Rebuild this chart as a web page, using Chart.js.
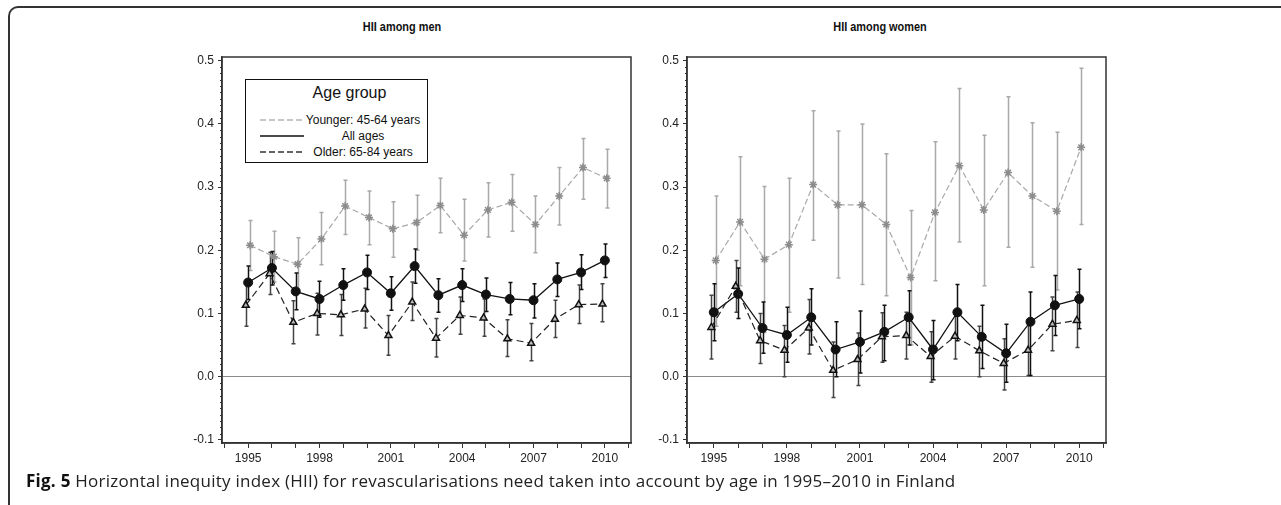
<!DOCTYPE html>
<html>
<head>
<meta charset="utf-8">
<script src="https://cdn.jsdelivr.net/npm/chart.js@4.4.1/dist/chart.umd.min.js"></script>
<style>
  body { margin: 0; width: 1281px; height: 505px; background: #fff; position: relative; overflow: hidden; font-family: "Liberation Sans", Arial, sans-serif; }
  .frame { position: absolute; left: 8px; top: 6px; width: 1300px; height: 510px; border-top: 2px solid #333; border-left: 2px solid #333; border-top-left-radius: 10px; }
  .ptitle { position: absolute; top: 19px; transform: translateX(-50%) scaleX(0.84); white-space: nowrap; color: #111;
            font: bold 13px "Liberation Sans", Arial, sans-serif; }
  canvas { position: absolute; }
  .legend { position: absolute; left: 245px; top: 79px; width: 181px; height: 82px; border: 1px solid #111; background: #fff; }
  .legend .lt { position: absolute; left: 0; right: 0; top: 4px; text-align: center; font-size: 16px; color: #111; padding-left: 26px; }
  .legend .row { position: absolute; left: 0; width: 181px; height: 16px; }
  .legend svg { position: absolute; left: 14px; top: 0; }
  .legend .tx { position: absolute; left: 58px; width: 118px; text-align: center; font-size: 12px; line-height: 16px; color: #111; }
  .caption { position: absolute; left: 26px; top: 469px; font-size: 17px; letter-spacing: 0.25px; color: #222; white-space: nowrap; font-family: "Open Sans", "Noto Sans", sans-serif; }
  .caption b { color: #111; }
</style>
</head>
<body>
<div class="frame"></div>
<div class="ptitle" style="left:402px">HII among men</div>
<div class="ptitle" style="left:880px">HII among women</div>
<canvas id="men" width="500" height="425" style="left:140px; top:45px"></canvas>
<canvas id="women" width="475" height="425" style="left:640px; top:45px"></canvas>
<div class="legend">
  <div class="lt">Age group</div>
  <div class="row" style="top:32px"><svg width="44" height="16"><line x1="0" y1="8" x2="44" y2="8" stroke="#b5b5b5" stroke-width="1.5" stroke-dasharray="6,3"/></svg><div class="tx">Younger: 45-64 years</div></div>
  <div class="row" style="top:48px"><svg width="44" height="16"><line x1="0" y1="8" x2="44" y2="8" stroke="#111" stroke-width="1.5"/></svg><div class="tx">All ages</div></div>
  <div class="row" style="top:64px"><svg width="44" height="16"><line x1="0" y1="8" x2="44" y2="8" stroke="#333" stroke-width="1.5" stroke-dasharray="6,3"/></svg><div class="tx">Older: 65-84 years</div></div>
</div>
<div class="caption"><b>Fig. 5</b> Horizontal inequity index (HII) for revascularisations need taken into account by age in 1995–2010 in Finland</div>

<script>
// Years and axis ticks
const years = [1995, 1996, 1997, 1998, 1999, 2000, 2001, 2002, 2003, 2004, 2005, 2006, 2007, 2008, 2009, 2010];
const tickYears = [1994, 1995, 1996, 1997, 1998, 1999, 2000, 2001, 2002, 2003, 2004, 2005, 2006, 2007, 2008, 2009, 2010, 2011];
const labelYears = [1995, 1998, 2001, 2004, 2007, 2010];
const yTicks = [-0.1, 0, 0.1, 0.2, 0.3, 0.4, 0.5];

// Men
const menYoung   = [0.208, 0.190, 0.178, 0.218, 0.270, 0.252, 0.234, 0.244, 0.271, 0.224, 0.264, 0.276, 0.241, 0.286, 0.331, 0.314];
const menYoungLo = [0.168, 0.150, 0.137, 0.177, 0.225, 0.209, 0.189, 0.200, 0.228, 0.183, 0.221, 0.230, 0.196, 0.240, 0.281, 0.267];
const menYoungHi = [0.247, 0.230, 0.220, 0.260, 0.311, 0.294, 0.277, 0.287, 0.314, 0.281, 0.307, 0.320, 0.286, 0.331, 0.377, 0.360];
const menAll     = [0.149, 0.172, 0.135, 0.123, 0.145, 0.165, 0.132, 0.175, 0.129, 0.145, 0.130, 0.123, 0.121, 0.154, 0.165, 0.184];
const menAllLo   = [0.122, 0.145, 0.106, 0.094, 0.121, 0.138, 0.105, 0.148, 0.102, 0.119, 0.103, 0.098, 0.093, 0.127, 0.138, 0.157];
const menAllHi   = [0.175, 0.198, 0.164, 0.151, 0.171, 0.192, 0.158, 0.202, 0.155, 0.171, 0.156, 0.149, 0.147, 0.180, 0.193, 0.210];
const menOld     = [0.113, 0.163, 0.086, 0.100, 0.098, 0.107, 0.065, 0.118, 0.061, 0.097, 0.093, 0.060, 0.053, 0.091, 0.114, 0.115];
const menOldLo   = [0.080, 0.130, 0.052, 0.066, 0.065, 0.077, 0.034, 0.089, 0.031, 0.067, 0.064, 0.032, 0.025, 0.062, 0.084, 0.087];
const menOldHi   = [0.146, 0.197, 0.120, 0.132, 0.130, 0.140, 0.097, 0.150, 0.092, 0.126, 0.123, 0.090, 0.084, 0.121, 0.145, 0.147];

// Women
const womenYoung   = [0.184, 0.245, 0.186, 0.209, 0.304, 0.272, 0.272, 0.241, 0.157, 0.260, 0.334, 0.264, 0.323, 0.286, 0.262, 0.363];
const womenYoungLo = [0.080, 0.144, 0.070, 0.102, 0.216, 0.156, 0.146, 0.128, 0.050, 0.152, 0.213, 0.144, 0.205, 0.173, 0.137, 0.241];
const womenYoungHi = [0.286, 0.348, 0.301, 0.314, 0.421, 0.389, 0.400, 0.353, 0.263, 0.372, 0.456, 0.382, 0.443, 0.402, 0.387, 0.488];
const womenAll     = [0.102, 0.131, 0.077, 0.066, 0.094, 0.043, 0.055, 0.071, 0.094, 0.043, 0.102, 0.063, 0.037, 0.087, 0.113, 0.123];
const womenAllLo   = [0.057, 0.092, 0.037, 0.023, 0.050, 0.000, 0.006, 0.025, 0.050, -0.005, 0.057, 0.013, -0.009, 0.002, 0.065, 0.076];
const womenAllHi   = [0.147, 0.172, 0.118, 0.110, 0.139, 0.087, 0.104, 0.113, 0.136, 0.089, 0.146, 0.113, 0.083, 0.134, 0.160, 0.170];
const womenOld     = [0.078, 0.143, 0.057, 0.042, 0.077, 0.010, 0.027, 0.063, 0.065, 0.032, 0.064, 0.041, 0.021, 0.042, 0.083, 0.089];
const womenOldLo   = [0.028, 0.102, 0.021, 0.000, 0.036, -0.033, -0.014, 0.023, 0.028, -0.009, 0.028, 0.000, -0.021, 0.002, 0.041, 0.046];
const womenOldHi   = [0.129, 0.184, 0.100, 0.081, 0.122, 0.055, 0.069, 0.101, 0.102, 0.071, 0.104, 0.080, 0.060, 0.084, 0.126, 0.134];

const FONT = '"Liberation Sans", Arial, sans-serif';
Chart.defaults.font.family = FONT;

// small horizontal nudge per series, as in the original figure
function points(vals, shift) {
  return years.map((yr, i) => ({ x: yr + shift, y: vals[i] }));
}

// Error bars, plot frame and minor y ticks
const decor = {
  id: 'decor',
  beforeDatasetsDraw(chart) {
    const ctx = chart.ctx;
    const yScale = chart.scales.y;
    chart.data.datasets.forEach((ds, di) => {
      const meta = chart.getDatasetMeta(di);
      ctx.save();
      ctx.strokeStyle = ds.barColor;
      ctx.lineWidth = 1.5;
      meta.data.forEach((pt, i) => {
        const x = Math.round(pt.x) + 0.5;
        const y1 = yScale.getPixelForValue(ds.lo[i]);
        const y2 = yScale.getPixelForValue(ds.hi[i]);
        ctx.beginPath();
        ctx.moveTo(x, y1); ctx.lineTo(x, y2);
        ctx.moveTo(x - 2, y1); ctx.lineTo(x + 2, y1);
        ctx.moveTo(x - 2, y2); ctx.lineTo(x + 2, y2);
        ctx.stroke();
      });
      ctx.restore();
    });
  },
  afterDraw(chart) {
    const ctx = chart.ctx;
    const a = chart.chartArea;
    const yScale = chart.scales.y;
    ctx.save();
    ctx.strokeStyle = '#333';
    ctx.lineWidth = 1.5;
    ctx.strokeRect(a.left, a.top, a.right - a.left, a.bottom - a.top);
    ctx.lineWidth = 1;
    ctx.beginPath();
    for (let k = -10; k <= 50; k++) {
      if (k % 10 === 0) continue;
      const y = Math.round(yScale.getPixelForValue(k / 100)) + 0.5;
      ctx.moveTo(a.left - 2, y);
      ctx.lineTo(a.left, y);
    }
    ctx.stroke();
    ctx.restore();
  }
};

function makeChart(id, yAxisWidth, young, youngLo, youngHi, all, allLo, allHi, old, oldLo, oldHi) {
  return new Chart(document.getElementById(id), {
    type: 'line',
    data: {
      datasets: [
        {
          label: 'Younger: 45-64 years',
          data: points(young, 0.08),
          lo: youngLo, hi: youngHi, barColor: '#a9a9a9',
          borderColor: '#a8a8a8', borderWidth: 1.2, borderDash: [6, 3],
          pointStyle: 'star', pointRadius: 4, pointBorderWidth: 1.5,
          pointBorderColor: '#8c8c8c', pointBackgroundColor: '#8c8c8c'
        },
        {
          label: 'Older: 65-84 years',
          data: points(old, -0.1),
          lo: oldLo, hi: oldHi, barColor: '#444',
          borderColor: '#222', borderWidth: 1.2, borderDash: [7, 4],
          pointStyle: 'triangle', pointRadius: 4, pointBorderWidth: 1.5,
          pointBorderColor: '#111', pointBackgroundColor: '#bbb'
        },
        {
          label: 'All ages',
          data: points(all, 0),
          lo: allLo, hi: allHi, barColor: '#111',
          borderColor: '#111', borderWidth: 1.3,
          pointStyle: 'circle', pointRadius: 4.5, pointBorderWidth: 1,
          pointBorderColor: '#111', pointBackgroundColor: '#111'
        }
      ]
    },
    options: {
      responsive: false,
      animation: false,
      devicePixelRatio: 1,
      layout: { padding: { top: 12, right: 9, bottom: 0, left: 0 } },
      plugins: { legend: { display: false }, tooltip: { enabled: false } },
      elements: { line: { tension: 0, fill: false } },
      scales: {
        x: {
          type: 'linear', min: 1993.9, max: 2011.1,
          afterBuildTicks: s => { s.ticks = tickYears.map(v => ({ value: v })); },
          afterFit: s => { s.height = 27; },
          ticks: {
            autoSkip: false, maxRotation: 0, padding: 3, color: '#222', font: { size: 12 },
            callback: v => labelYears.includes(v) ? String(v) : ''
          },
          grid: { drawOnChartArea: false, tickLength: 5, tickColor: '#333', tickWidth: 1 },
          border: { color: '#333', width: 1.5 }
        },
        y: {
          min: -0.105, max: 0.506,
          afterBuildTicks: s => { s.ticks = yTicks.map(v => ({ value: v })); },
          afterFit: s => { s.width = yAxisWidth; },
          ticks: { padding: 4, color: '#222', font: { size: 12 }, callback: v => v.toFixed(1) },
          grid: {
            color: c => (c.tick && c.tick.value === 0) ? '#8a8a8a' : 'rgba(0,0,0,0)',
            lineWidth: 1, tickLength: 4, tickColor: '#333', tickWidth: 1
          },
          border: { color: '#333', width: 1.5 }
        }
      }
    },
    plugins: [decor]
  });
}

makeChart('men', 82, menYoung, menYoungLo, menYoungHi, menAll, menAllLo, menAllHi, menOld, menOldLo, menOldHi);
makeChart('women', 47, womenYoung, womenYoungLo, womenYoungHi, womenAll, womenAllLo, womenAllHi, womenOld, womenOldLo, womenOldHi);
</script>
</body>
</html>
